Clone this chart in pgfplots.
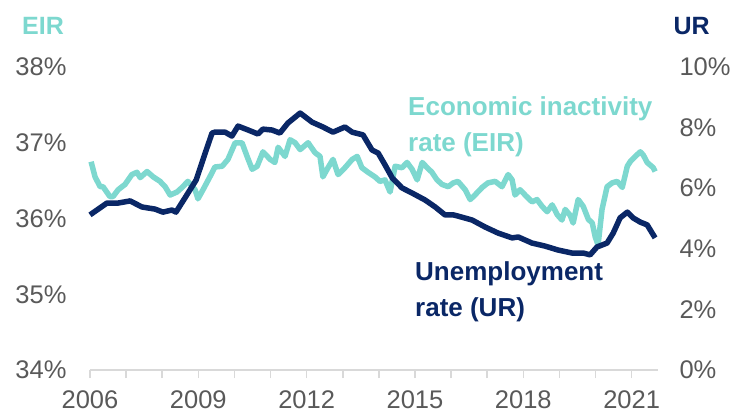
\documentclass[border=0pt]{standalone}
\usepackage{fontspec}
\setmainfont{Liberation Sans}
\usepackage{pgfplots}
\pgfplotsset{compat=1.18}
\definecolor{eirc}{HTML}{7DD8CF}
\definecolor{navy}{HTML}{0A2766}
\definecolor{lab}{HTML}{595959}
\definecolor{axl}{HTML}{D9D9D9}
\begin{document}
\begin{tikzpicture}[x=1pt,y=1pt]
\path[use as bounding box] (0,0) rectangle (745,413);
\begin{axis}[
  at={(90pt,43pt)}, anchor=south west, scale only axis,
  width=568pt, height=303pt,
  xmin=2006, xmax=2021.73, ymin=34, ymax=38,
  axis x line*=bottom, axis y line*=left,
  y axis line style={draw=none},
  x axis line style={draw=axl, line width=1.5pt},
  xtick={2006,2009,2012,2015,2018,2021},
  minor xtick={2007,2008,2010,2011,2013,2014,2016,2017,2019,2020},
  xtick style={draw=axl, line width=1.5pt},
  minor x tick style={draw=axl, line width=1.5pt},
  major tick length=8pt, minor tick length=8pt,
  tick align=outside,
  ytick={34,35,36,37,38},
  ytick style={draw=none},
  /pgf/number format/assume math mode=true,
  xticklabel={\pgfmathprintnumber[1000 sep={},fixed,precision=0]{\tick}},
  yticklabel={\pgfmathprintnumber{\tick}\%},
  ticklabel style={font=\fontsize{25.5}{28}\selectfont, text=lab},
  xticklabel style={yshift=-9pt},
  yticklabel style={xshift=-12pt},
  clip=false,
]
\addplot[eirc, line width=5.5pt, line join=round] coordinates {
(2006.03,36.75) (2006.14,36.55) (2006.28,36.42) (2006.36,36.42) (2006.55,36.29) (2006.64,36.29)
(2006.78,36.38) (2006.97,36.45) (2007.16,36.58) (2007.30,36.61) (2007.39,36.54) (2007.58,36.62)
(2007.75,36.55) (2007.94,36.49) (2008.08,36.42) (2008.22,36.31) (2008.41,36.35) (2008.55,36.41)
(2008.71,36.49) (2008.91,36.38) (2008.99,36.26) (2009.13,36.38) (2009.32,36.55) (2009.46,36.68)
(2009.66,36.69) (2009.82,36.78) (2010.02,37.00) (2010.21,37.00) (2010.35,36.82) (2010.49,36.65)
(2010.63,36.69) (2010.79,36.88) (2010.99,36.78) (2011.12,36.74) (2011.21,36.94) (2011.40,36.82)
(2011.54,37.04) (2011.68,37.00) (2011.82,36.91) (2012.04,37.00) (2012.23,36.87) (2012.37,36.82)
(2012.45,36.55) (2012.59,36.67) (2012.73,36.78) (2012.87,36.58) (2013.06,36.67) (2013.26,36.78)
(2013.40,36.82) (2013.53,36.67) (2013.70,36.61) (2013.89,36.55) (2014.03,36.49) (2014.17,36.51)
(2014.31,36.35) (2014.45,36.69) (2014.64,36.67) (2014.78,36.74) (2014.92,36.65) (2015.06,36.51)
(2015.20,36.74) (2015.34,36.67) (2015.47,36.61) (2015.61,36.51) (2015.75,36.45) (2015.92,36.42)
(2016.06,36.47) (2016.19,36.49) (2016.39,36.38) (2016.53,36.25) (2016.66,36.31) (2016.86,36.41)
(2017.02,36.47) (2017.22,36.49) (2017.41,36.42) (2017.58,36.58) (2017.69,36.51) (2017.77,36.31)
(2017.91,36.38) (2018.05,36.31) (2018.24,36.22) (2018.38,36.25) (2018.52,36.16) (2018.66,36.09)
(2018.80,36.18) (2018.94,36.05) (2019.07,35.98) (2019.16,36.12) (2019.30,36.04) (2019.38,35.94)
(2019.52,36.25) (2019.66,36.16) (2019.80,35.99) (2019.91,35.94) (2019.99,35.76) (2020.07,35.65)
(2020.18,36.12) (2020.32,36.42) (2020.46,36.47) (2020.60,36.49) (2020.74,36.41) (2020.88,36.69)
(2020.96,36.75) (2021.10,36.82) (2021.24,36.88) (2021.32,36.84) (2021.43,36.74) (2021.60,36.67)
(2021.65,36.62)
};
\end{axis}
\begin{axis}[
  at={(90pt,43pt)}, anchor=south west, scale only axis,
  width=568pt, height=303pt,
  xmin=2006, xmax=2021.73, ymin=0, ymax=10,
  axis x line=none, axis y line*=right,
  y axis line style={draw=none},
  ytick={0,2,4,6,8,10}, ytick style={draw=none},
  /pgf/number format/assume math mode=true,
  yticklabel={\pgfmathprintnumber{\tick}\%},
  ticklabel style={font=\fontsize{25.5}{28}\selectfont, text=lab},
  yticklabel style={xshift=18pt},
  clip=false,
]
\addplot[navy, line width=5.5pt, line join=round] coordinates {
(2006.00,5.12) (2006.47,5.51) (2006.78,5.51) (2007.11,5.58) (2007.44,5.38) (2007.80,5.31)
(2008.02,5.21) (2008.27,5.28) (2008.38,5.21) (2008.63,5.68) (2008.94,6.27) (2009.19,7.16)
(2009.38,7.82) (2009.46,7.85) (2009.74,7.85) (2009.93,7.72) (2010.10,8.05) (2010.38,7.92)
(2010.65,7.79) (2010.79,7.95) (2011.04,7.92) (2011.26,7.82) (2011.48,8.15) (2011.82,8.48)
(2012.15,8.18) (2012.45,8.02) (2012.73,7.85) (2013.06,8.02) (2013.26,7.85) (2013.56,7.76)
(2013.81,7.26) (2013.98,7.16) (2014.17,6.77) (2014.37,6.34) (2014.64,6.01) (2014.92,5.84)
(2015.28,5.61) (2015.56,5.38) (2015.83,5.12) (2016.06,5.12) (2016.19,5.08) (2016.58,4.95)
(2016.94,4.72) (2017.30,4.52) (2017.69,4.36) (2017.86,4.39) (2018.24,4.19) (2018.60,4.09)
(2018.96,3.96) (2019.35,3.86) (2019.66,3.86) (2019.85,3.80) (2020.04,4.06) (2020.32,4.19)
(2020.49,4.52) (2020.68,5.02) (2020.88,5.21) (2021.04,5.02) (2021.24,4.88) (2021.43,4.79)
(2021.65,4.36)
};
\end{axis}
\node[anchor=base west, text=eirc, font=\fontsize{25}{28}\selectfont\bfseries, inner sep=0pt] at (22,378.5) {EIR};
\node[anchor=base east, text=navy, font=\fontsize{25}{28}\selectfont\bfseries, inner sep=0pt] at (710,378.5) {UR};
\node[anchor=base west, text=eirc, font=\fontsize{26}{28}\selectfont\bfseries, inner sep=0pt] at (408,297) {Economic inactivity};
\node[anchor=base west, text=eirc, font=\fontsize{26}{28}\selectfont\bfseries, inner sep=0pt] at (408,261) {rate (EIR)};
\node[anchor=base west, text=navy, font=\fontsize{26}{28}\selectfont\bfseries, inner sep=0pt] at (415,132) {Unemployment};
\node[anchor=base west, text=navy, font=\fontsize{26}{28}\selectfont\bfseries, inner sep=0pt] at (415,97) {rate (UR)};
\end{tikzpicture}
\end{document}
